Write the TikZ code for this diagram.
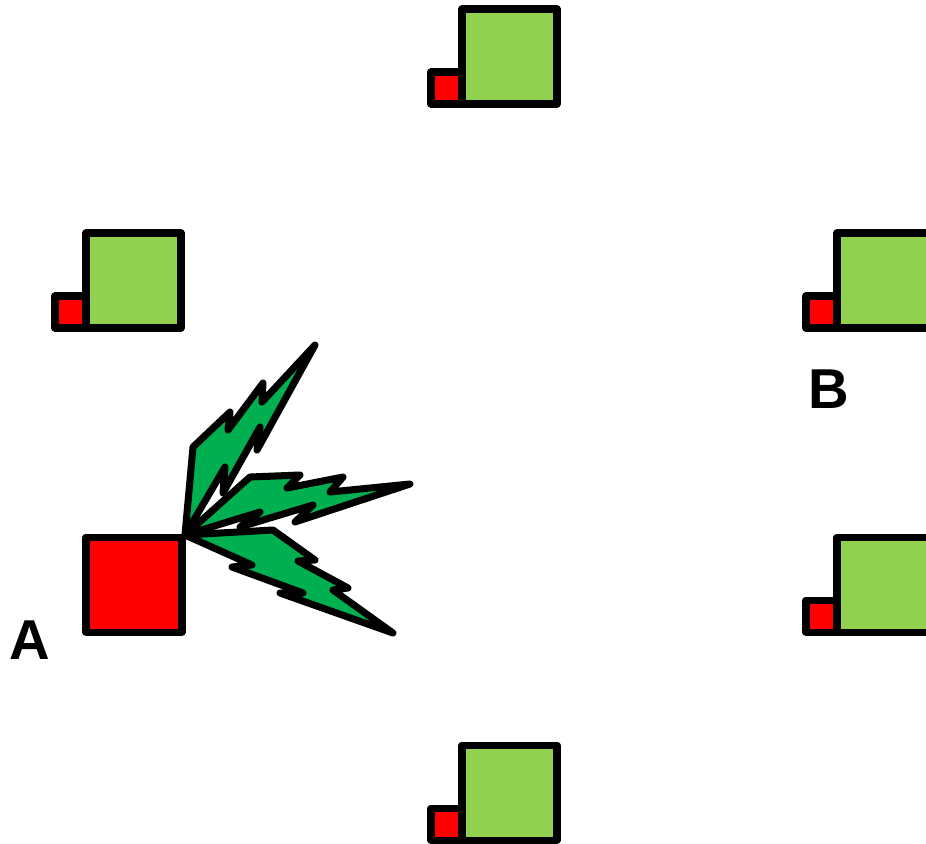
\documentclass[tikz,border=0pt]{standalone}
\usepackage{fontspec}
\setsansfont{Liberation Sans}
\definecolor{cellgreen}{HTML}{92D050}
\definecolor{boltgreen}{HTML}{00B050}
\definecolor{sitered}{HTML}{FF0000}
\tikzset{
  outline/.style={draw=black,line width=4pt,line join=round,line cap=round},
  bolt/.style={outline,fill=boltgreen},
  sitelabel/.style={font=\sffamily\bfseries\fontsize{32}{32}\selectfont,inner sep=0pt}
}
\begin{document}
\begin{tikzpicture}[x=0.02cm,y=-0.02cm]
  \useasboundingbox (0,0) rectangle (926,843);
  % define point
  \coordinate (O) at (185,535);
  % stations: green cell with small red box
  \foreach \gx/\gy in {462/9, 86/233, 837/233, 837/537, 462/745}{
    \draw[outline,fill=cellgreen] (\gx,\gy) rectangle ++(95,95);
    \draw[outline,fill=sitered] (\gx-31,\gy+63) rectangle (\gx,\gy+95);
  }
  % source
  \draw[outline,fill=sitered] (86,537) rectangle (182,632);
  % bolts
  \draw[bolt] (O) -- (193,447) -- (230,412) -- (228,430) -- (263,383) -- (262,402)
    -- (315,345) -- (257,450) -- (260,427) -- (223,493) -- (225,467) -- cycle;
  \draw[bolt] (O) -- (250,477) -- (300,475) -- (287,488) -- (343,477) -- (330,492)
    -- (410,484) -- (295,522) -- (313,505) -- (240,527) -- (260,512) -- cycle;
  \draw[bolt] (O) -- (273,530) -- (315,560) -- (298,561) -- (348,588) -- (333,590)
    -- (393,633) -- (280,593) -- (303,593) -- (232,567) -- (252,565) -- cycle;
  % labels
  \node[sitelabel] (labA) at (30,640) {A};
  \node[sitelabel] (labB) at (829,389) {B};
\end{tikzpicture}
\end{document}
